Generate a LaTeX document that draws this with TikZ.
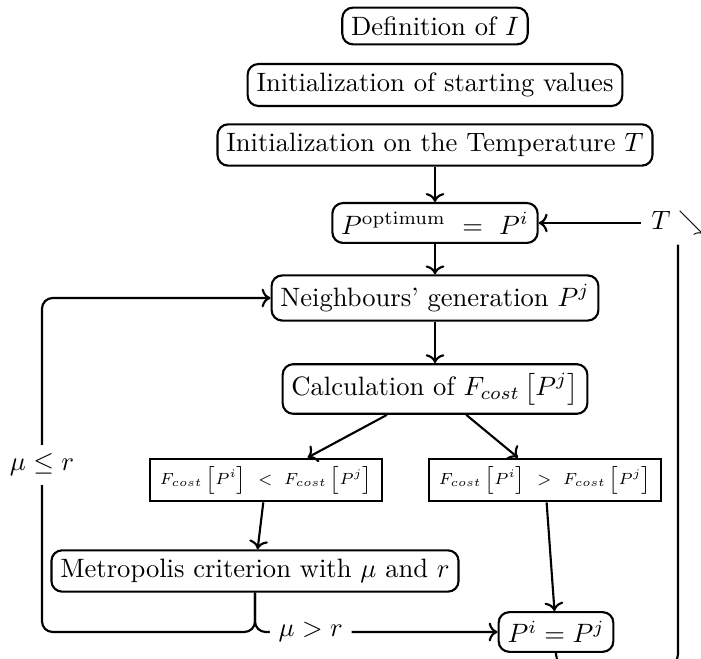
\documentclass[tikz,border=0pt]{standalone}
\usepackage{graphicx}
\usetikzlibrary{arrows.meta}
\newcommand{\smallcmp}[1]{\scalebox{0.87}{\scriptsize$#1$}}
\begin{document}
\begin{tikzpicture}[x=0.3763pt,y=-0.3763pt, thick,
  rbox/.style={draw, rounded corners=4pt},
  sbox/.style={draw, inner xsep=3.6pt, inner ysep=2.8pt},
  lbl/.style={fill=white}]
\useasboundingbox (0,0) rectangle (701,659);
\node[rbox] (def) at (435,26) {Definition of $I$};
\node[rbox] (init) at (435,85) {Initialization of starting values};
\node[rbox] (temp) at (435,145) {Initialization on the Temperature $T$};
\node[rbox] (popt) at (435,223) {$P^{\mathrm{optimum}}\ =\ P^i$};
\node[rbox] (neigh) at (435,298) {Neighbours' generation $P^j$};
\node[rbox] (calc) at (435,389) {Calculation of $F_{cost}\left[P^j\right]$};
\node[sbox] (lt) at (266,480) {\smallcmp{F_{cost}\left[P^i\right]\ <\ F_{cost}\left[P^j\right]}};
\node[sbox] (gt) at (545,480) {\smallcmp{F_{cost}\left[P^i\right]\ >\ F_{cost}\left[P^j\right]}};
\node[rbox] (metro) at (255,571) {Metropolis criterion with $\mu$ and $r$};
\node[rbox] (pij) at (556,632) {$P^i = P^j$};
\node (tn) at (678,223) {$T \searrow$};
\coordinate (bl) at (42,632);
\coordinate (br) at (678,665);
\draw[->] (temp) -- (popt);
\draw[->] (popt) -- (neigh);
\draw[->] (neigh) -- (calc);
\draw[->] (calc) -- (lt);
\draw[->] (calc) -- (gt);
\draw[->] (lt) -- (metro);
\draw[->] (gt) -- (pij);
\draw[->] (tn) -- (popt);
\draw[->, rounded corners=4pt] (metro.south) |- (bl) -- node[lbl] {$\mu\leq r$} (bl |- neigh) -- (neigh);
\draw[->, rounded corners=4pt] (metro.south) |- node[lbl, pos=0.615] {$\mu>r$} (pij.west);
\draw[rounded corners=4pt] (pij.south) |- (br) -- (tn.south);
\end{tikzpicture}
\end{document}
